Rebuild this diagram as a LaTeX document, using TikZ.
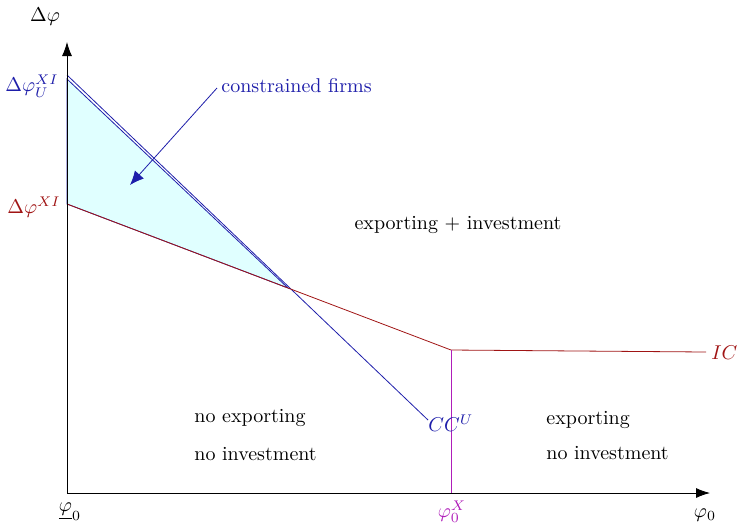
\documentclass[tikz,border=0pt]{standalone}
\usetikzlibrary{arrows.meta}
\definecolor{ccblue}{RGB}{30,30,170}
\definecolor{icred}{RGB}{160,20,20}
\definecolor{xmag}{RGB}{175,30,185}
\definecolor{fillcyan}{RGB}{224,255,255}
\begin{document}
\begin{tikzpicture}[x=0.5pt,y=-0.5pt,
  axis/.style={black, line width=0.4pt, -{Latex[length=7pt,width=5pt]}},
  ccline/.style={ccblue, line width=0.4pt},
  icline/.style={icred, line width=0.4pt},
  lbl/.style={inner sep=1pt},
]
\useasboundingbox (0,0) rectangle (739,527);
% points
\coordinate (O) at (67,493);
\coordinate (Ytop) at (67,42);
\coordinate (Xend) at (710,493);
\coordinate (U) at (67,79);
\coordinate (U2) at (67,75);
\coordinate (A) at (67,204);
\coordinate (K) at (288,288);
\coordinate (B) at (451,350);
\coordinate (C) at (706,352);
\coordinate (D) at (428,420);
\coordinate (X0) at (451,493);
\coordinate (Ast) at (217,88);
\coordinate (Aen) at (130,185);
% region
\filldraw[fill=fillcyan, draw=ccblue, line width=0.4pt] (U) -- (K) -- (A) -- cycle;
\draw[ccline] (U2) -- (D);
\draw[icline] (A) -- (K) -- (B) -- (C);
\draw[xmag, line width=0.5pt] (B) -- (X0);
% axes
\draw[axis] (O) -- (Ytop);
\draw[axis] (O) -- (Xend);
% arrow
\draw[ccblue, line width=0.4pt, -{Latex[length=7pt,width=6pt]}] (Ast) -- (Aen);
% labels
\node[lbl] (ylab) at (45,17) {$\Delta\varphi$};
\node[lbl, anchor=east, text=ccblue] (lu) at (61,86) {$\Delta\varphi_U^{XI}$};
\node[lbl, anchor=east, text=icred] (la) at (63,207) {$\Delta\varphi^{XI}$};
\node[lbl, anchor=west, text=ccblue] (cf) at (219,86) {constrained firms};
\node[lbl] (ei) at (458,225) {exporting + investment};
\node[lbl, anchor=west] (ne) at (192,418) {no exporting};
\node[lbl, anchor=west] (ni) at (192,454) {no investment};
\node[lbl, anchor=west] (ex) at (544,420) {exporting};
\node[lbl, anchor=west] (ni2) at (544,453) {no investment};
\node[lbl, anchor=west, text=ccblue] (ccl) at (426,423) {$CC^U$};
\node[lbl, anchor=west, text=icred] (icl) at (709,353) {$IC$};
\node[lbl] (x0l) at (70,512) {$\underline{\varphi}_0$};
\node[lbl, text=xmag] (xxl) at (452,512) {$\varphi_0^X$};
\node[lbl] (xl) at (705,515) {$\varphi_0$};
\end{tikzpicture}
\end{document}
